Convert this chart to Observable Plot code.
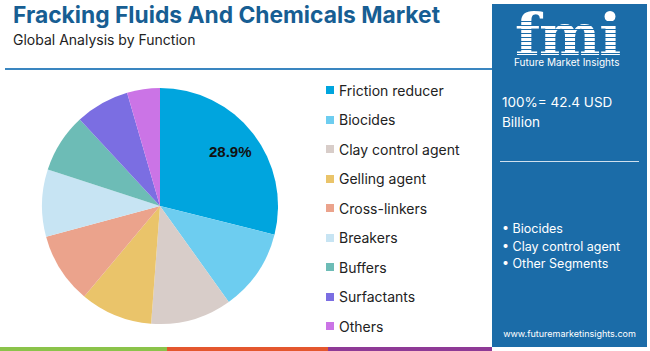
<!DOCTYPE html>
<html><head><meta charset="utf-8">
<script src="https://cdn.jsdelivr.net/npm/d3@7"></script>
<script src="https://cdn.jsdelivr.net/npm/@observablehq/plot@0.6"></script>
<style>
html,body{margin:0;padding:0;background:#fff;width:650px;height:351px;overflow:hidden;font-family:Inter,"Open Sans",sans-serif;}
#wrap{position:relative;width:650px;height:351px;}
.abs{position:absolute;}
#title{left:13px;top:1px;font-size:22.8px;font-weight:700;color:#175e93;white-space:nowrap;}
#subtitle{left:13px;top:31px;font-size:14px;color:#222;white-space:nowrap;}
#rule{left:5px;top:68px;width:487px;height:2px;background:#3a86c0;}
#legend{left:326px;top:80px;}
.li{position:absolute;left:0;height:20px;display:flex;align-items:center;font-size:14px;color:#222;white-space:nowrap;}
.sw{width:8px;height:8px;margin-right:5px;display:inline-block;}
#panel{left:492px;top:4px;width:155px;height:343px;background:#1b6ca8;color:#fff;}
#strip{left:0;top:347px;height:4px;width:495px;display:flex;}
#pie{left:40px;top:86px;}
#logo{left:23px;top:11px;font-family:'DejaVu Serif',serif;font-weight:700;font-size:58px;line-height:40px;letter-spacing:-1px;}
#stripes{left:20px;top:14px;width:110px;height:40px;background:repeating-linear-gradient(to bottom, transparent 0px, transparent 3px, #1b6ca8 3px, #1b6ca8 4px);}
</style></head>
<body><div id="wrap">
<div id="title" class="abs">Fracking Fluids And Chemicals Market</div>
<div id="subtitle" class="abs">Global Analysis by Function</div>
<div id="rule" class="abs"></div>
<div id="pie" class="abs"></div>
<div id="legend" class="abs"></div>
<div id="panel" class="abs">
  <div id="logo" class="abs">fmi</div>
  <div id="stripes" class="abs"></div>
  <div class="abs" style="left:22px;top:53px;font-size:10px;line-height:10px;white-space:nowrap;">Future Market Insights</div>
  <div class="abs" style="left:10px;top:88px;font-size:13.5px;line-height:20px;width:140px;">100%= 42.4 USD<br>Billion</div>
  <div class="abs" style="left:8px;top:157px;width:139px;height:1px;background:#cfe0ee;"></div>
  <div class="abs" style="left:10px;top:216px;font-size:12.5px;line-height:17.5px;white-space:nowrap;">• Biocides<br>• Clay control agent<br>• Other Segments</div>
  <div class="abs" style="left:0;top:324px;width:155px;text-align:center;font-size:9px;white-space:nowrap;">www.futuremarketinsights.com</div>
</div>
<div id="strip" class="abs"></div>
</div>
<script>
const categories = ["Friction reducer","Biocides","Clay control agent","Gelling agent","Cross-linkers","Breakers","Buffers","Surfactants","Others"];
const shares = [28.9, 11.2, 11.1, 9.9, 9.7, 9.2, 8.1, 7.4, 4.5];
const colors = ["#00a5de","#6dcdf0","#d8cdc9","#eac46a","#eba38c","#c7e4f3","#6dbcb6","#7b6ee2","#cb74e6"];
const labelText = ["28.9%","","","","","","","",""];
const stripColors = ["#8bc34a","#e4572e","#8e3a96"];
const stripWidths = [167, 161, 164];

const data = categories.map((c,i)=>({category:c, value:shares[i], label:labelText[i]}));
const arcs = d3.pie().sort(null).value(d=>d.value)(data);
const labelPts = arcs.map(a=>{const m=(a.startAngle+a.endAngle)/2; return {label:a.data.label, x:0.75*Math.sin(m), y:0.75*Math.cos(m)};});

const chart = Plot.plot({
  width:240, height:240, margin:2,
  x:{domain:[-1,1], axis:null}, y:{domain:[-1,1], axis:null},
  color:{domain:categories, range:colors},
  marks:[
    (index, scales) => {
      const cx = scales.x(0), cy = scales.y(0), r = scales.x(1)-scales.x(0);
      const g = d3.create("svg:g").attr("transform",`translate(${cx},${cy})`);
      const arc = d3.arc().innerRadius(0).outerRadius(r);
      g.selectAll("path").data(arcs).join("path").attr("d",arc).attr("fill",d=>scales.color(d.data.category));
      return g.node();
    },
    Plot.text(labelPts, {x:"x", y:"y", text:"label", fontSize:15, fontWeight:700, fill:"#111", fontFamily:"Liberation Sans, Arial, sans-serif"})
  ]
});
document.getElementById("pie").append(chart);

const leg = document.getElementById("legend");
categories.forEach((c,i)=>{
  const d = document.createElement("div"); d.className="li"; d.style.top=(i*29.5)+"px";
  d.innerHTML = `<span class="sw" style="background:${colors[i]}"></span>${c}`;
  leg.append(d);
});
const strip = document.getElementById("strip");
stripColors.forEach((c,i)=>{const s=document.createElement("div"); s.style.width=stripWidths[i]+"px"; s.style.height="4px"; s.style.background=c; strip.append(s);});
</script>
</body></html>
